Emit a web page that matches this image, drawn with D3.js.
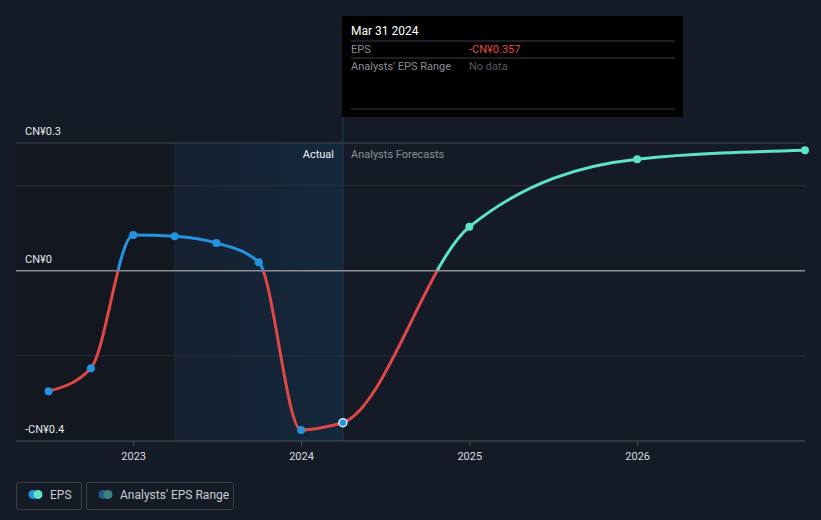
<!DOCTYPE html>
<html><head><meta charset="utf-8">
<script src="https://cdn.jsdelivr.net/npm/d3@7"></script>
<style>
html,body{margin:0;padding:0;background:#151b26;}
svg{display:block;font-family:Roboto,"Noto Sans",sans-serif;}
</style></head>
<body>
<svg id="c" width="821" height="520"></svg>
<script>
const actualDates = ["2022-06-30","2022-09-30","2022-12-31","2023-03-31","2023-06-30","2023-09-30","2023-12-31","2024-03-31"];
const actualEPS = [-0.283,-0.229,0.084,0.081,0.065,0.020,-0.374,-0.357];
const forecastDates = ["2024-03-31","2024-12-31","2025-12-31","2026-12-31"];
const forecastEPS = [-0.357,0.103,0.262,0.283];
const yTicks = [0.3,0.2,0,-0.2,-0.4];
const yLabels = [{v:0.3,t:"CN¥0.3"},{v:0,t:"CN¥0"},{v:-0.4,t:"-CN¥0.4"}];
const xTickYears = ["2023","2024","2025","2026"];

const parse = d3.timeParse("%Y-%m-%d");
const svg = d3.select("#c");
const W=821,H=520, L=16, R=805, T=143, B=441;
const x = d3.scaleTime().domain([parse("2022-04-20"), parse("2026-12-31")]).range([L,R]);
const y = d3.scaleLinear().domain([-0.4,0.3]).range([B,T]);

const defs = svg.append("defs");
const g1 = defs.append("linearGradient").attr("id","hl").attr("x1",0).attr("x2",1).attr("y1",0).attr("y2",0);
g1.append("stop").attr("offset","0%").attr("stop-color","#152030");
g1.append("stop").attr("offset","100%").attr("stop-color","#14283d");

const bandStart = parse("2023-03-31"), bandEnd = parse("2024-03-31");
svg.append("rect").attr("x",L).attr("y",T).attr("width",x(bandStart)-L).attr("height",B-T).attr("fill","#13171f");
svg.append("rect").attr("x",x(bandStart)).attr("y",T).attr("width",x(bandEnd)-x(bandStart)).attr("height",B-T).attr("fill","url(#hl)");
svg.append("line").attr("x1",x(bandStart)).attr("x2",x(bandStart)).attr("y1",T).attr("y2",B).attr("stroke","#1b2a3a").attr("stroke-width",1);
svg.append("line").attr("x1",x(bandEnd)).attr("x2",x(bandEnd)).attr("y1",117).attr("y2",B).attr("stroke","#1c3148").attr("stroke-width",1.5);

yTicks.forEach(v=>{
  let col = v===0 ? "#8c9097" : (v===0.3 ? "#40454d" : (v===-0.4 ? "#4a4f57" : "#2a2f38"));
  svg.append("line").attr("x1",L).attr("x2",R).attr("y1",y(v)).attr("y2",y(v)).attr("stroke",col).attr("stroke-width",v===0?1.5:1);
});
xTickYears.forEach(t=>{
  const xx = x(parse(t+"-01-01"));
  svg.append("line").attr("x1",xx).attr("x2",xx).attr("y1",B).attr("y2",B+5).attr("stroke","#4a4f57");
  svg.append("text").attr("x",xx).attr("y",460).attr("text-anchor","middle").attr("fill","#d9dce0").attr("font-size",11).text(t);
});
yLabels.forEach(d=>{
  svg.append("text").attr("x",25).attr("y",y(d.v)-8).attr("fill","#e6e8ea").attr("font-size",11).text(d.t);
});

svg.append("text").attr("x",334).attr("y",158).attr("text-anchor","end").attr("fill","#eef0f2").attr("font-size",11).text("Actual");
svg.append("text").attr("x",351).attr("y",158).attr("fill","#8b9099").attr("font-size",11).text("Analysts Forecasts");

defs.append("clipPath").attr("id","above").append("rect").attr("x",0).attr("y",0).attr("width",W).attr("height",y(0));
defs.append("clipPath").attr("id","below").append("rect").attr("x",0).attr("y",y(0)).attr("width",W).attr("height",H-y(0));
defs.append("clipPath").attr("id","futAbove").append("rect").attr("x",x(bandEnd)).attr("y",0).attr("width",W).attr("height",y(0));
defs.append("clipPath").attr("id","futBelow").append("rect").attr("x",x(bandEnd)).attr("y",y(0)).attr("width",W).attr("height",H-y(0));

const line = d3.line().x(d=>x(d.d)).y(d=>y(d.v)).curve(d3.curveMonotoneX);
const act = actualDates.map((d,i)=>({d:parse(d),v:actualEPS[i]}));
const fc = forecastDates.map((d,i)=>({d:parse(d),v:forecastEPS[i]}));
const fcLine = [act[act.length-2]].concat(fc);

function drawLine(data, colAbove, colBelow, ca, cb){
  svg.append("path").datum(data).attr("d",line).attr("fill","none").attr("stroke",colAbove).attr("stroke-width",3).attr("clip-path",`url(#${ca})`);
  svg.append("path").datum(data).attr("d",line).attr("fill","none").attr("stroke",colBelow).attr("stroke-width",3).attr("clip-path",`url(#${cb})`);
}
drawLine(fcLine,"#5ee3c9","#e04848","futAbove","futBelow");
drawLine(act,"#2394df","#e04848","above","below");

svg.selectAll(".fp").data(fc.slice(1)).enter().append("circle").attr("cx",d=>x(d.d)).attr("cy",d=>y(d.v)).attr("r",4).attr("fill","#5ee3c9");
svg.selectAll(".ap").data(act).enter().append("circle").attr("cx",d=>x(d.d)).attr("cy",d=>y(d.v)).attr("r",4)
  .attr("fill","#2394df").attr("stroke",(d,i)=>i===act.length-1?"#d8ecfa":"none").attr("stroke-width",1.5);

const tt = svg.append("g");
tt.append("rect").attr("x",342).attr("y",16).attr("width",341).attr("height",101).attr("fill","#000");
tt.append("text").attr("x",351).attr("y",35).attr("fill","#ffffff").attr("font-size",12).text("Mar 31 2024");
[41,58,109].forEach(yy=>tt.append("line").attr("x1",351).attr("x2",675).attr("y1",yy).attr("y2",yy).attr("stroke","#3c3f44"));
tt.append("text").attr("x",351).attr("y",53).attr("fill","#8a8e94").attr("font-size",11).text("EPS");
tt.append("text").attr("x",469).attr("y",53).attr("fill","#e5484d").attr("font-size",11).text("-CN¥0.357");
tt.append("text").attr("x",351).attr("y",70).attr("fill","#8a8e94").attr("font-size",11).text("Analysts' EPS Range");
tt.append("text").attr("x",469).attr("y",70).attr("fill","#55595f").attr("font-size",11).text("No data");

const lg = svg.append("g");
lg.append("rect").attr("x",16.5).attr("y",482.5).attr("width",65).attr("height",27).attr("rx",2).attr("fill","none").attr("stroke","#3a3f48");
lg.append("circle").attr("cx",33).attr("cy",494.5).attr("r",4.5).attr("fill","#2394df");
lg.append("circle").attr("cx",38).attr("cy",494.5).attr("r",4.5).attr("fill","#5ee3c9");
lg.append("text").attr("x",50).attr("y",499).attr("fill","#c9ccd1").attr("font-size",12).text("EPS");
lg.append("rect").attr("x",86.5).attr("y",482.5).attr("width",147).attr("height",27).attr("rx",2).attr("fill","none").attr("stroke","#3a3f48");
lg.append("circle").attr("cx",103).attr("cy",494.5).attr("r",4.5).attr("fill","#1f5c8c");
lg.append("circle").attr("cx",108).attr("cy",494.5).attr("r",4.5).attr("fill","#3a8580");
lg.append("text").attr("x",120).attr("y",499).attr("fill","#c9ccd1").attr("font-size",12).text("Analysts' EPS Range");
</script>
</body></html>
